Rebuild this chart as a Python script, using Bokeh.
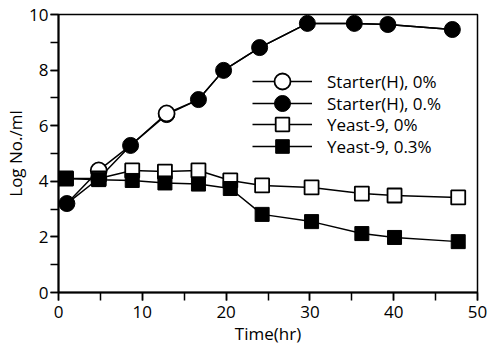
from bokeh.plotting import figure
from bokeh.models import SingleIntervalTicker, Legend, LegendItem, Range1d
from bokeh.embed import file_html
from bokeh.resources import INLINE

# Data
circle_time = [1.0, 4.8, 8.6, 12.9, 16.7, 19.7, 24.0, 29.7, 35.3, 39.3, 47.0]
starter_0 = [3.2, 4.39, 5.29, 6.44, 6.94, 7.99, 8.81, 9.68, 9.68, 9.64, 9.46]
starter_03 = [3.2, 4.1, 5.29, 6.4, 6.94, 7.99, 8.81, 9.68, 9.68, 9.64, 9.46]
square_time = [0.9, 4.8, 8.8, 12.7, 16.7, 20.5, 24.3, 30.2, 36.2, 40.1, 47.7]
yeast_0 = [4.1, 4.1, 4.39, 4.35, 4.39, 4.03, 3.85, 3.78, 3.56, 3.49, 3.42]
yeast_03 = [4.1, 4.06, 4.03, 3.94, 3.9, 3.74, 2.81, 2.55, 2.12, 1.98, 1.83]
labels = ["Starter(H), 0%", "Starter(H), 0.%", "Yeast-9, 0%", "Yeast-9, 0.3%"]

FONT = "Open Sans"

p = figure(width=497, height=347, output_backend="svg", toolbar_location=None,
           x_range=Range1d(0, 50), y_range=Range1d(0, 10),
           min_border_left=58, min_border_right=20, min_border_top=14, min_border_bottom=55)
p.background_fill_color = "white"
p.border_fill_color = "white"
p.outline_line_color = "black"
p.outline_line_width = 1.5
p.grid.visible = False

p.xaxis.ticker = SingleIntervalTicker(interval=10, num_minor_ticks=2)
p.yaxis.ticker = SingleIntervalTicker(interval=2, num_minor_ticks=2)
for ax in (p.xaxis[0], p.yaxis[0]):
    ax.axis_line_color = "black"
    ax.axis_line_width = 2
    ax.major_tick_line_color = "black"
    ax.minor_tick_line_color = "black"
    ax.major_tick_line_width = 1.5
    ax.minor_tick_line_width = 1.5
    ax.major_tick_in = 0
    ax.major_tick_out = 8
    ax.minor_tick_in = 0
    ax.minor_tick_out = 8
    ax.major_label_text_font = FONT
    ax.major_label_text_font_size = "17px"
    ax.major_label_text_color = "black"
    ax.axis_label_text_font = FONT
    ax.axis_label_text_font_size = "17px"
    ax.axis_label_text_font_style = "normal"
    ax.axis_label_text_color = "black"
p.xaxis.axis_label = "Time(hr)"
p.yaxis.axis_label = "Log No./ml"
p.xaxis.major_label_standoff = 5
p.yaxis.major_label_standoff = 2
p.xaxis.axis_label_standoff = 1
p.yaxis.axis_label_standoff = -1

LW = 1.5
# lines
l0 = p.line(circle_time, starter_0, line_color="black", line_width=LW)
l1 = p.line(circle_time, starter_03, line_color="black", line_width=LW)
l2 = p.line(square_time, yeast_0, line_color="black", line_width=LW)
l3 = p.line(square_time, yeast_03, line_color="black", line_width=LW)

# filled circles
m1 = p.scatter(circle_time, starter_03, marker="circle", size=16,
               fill_color="black", line_color="black")
# open circles where they differ from the filled series (others lie under it)
diff = [a != b for a, b in zip(starter_0, starter_03)]
ox = [t for t, d in zip(circle_time, diff) if d]
oy = [v for v, d in zip(starter_0, diff) if d]
m0 = p.scatter(ox, oy, marker="circle", size=16, fill_color="white",
               line_color="black", line_width=1.8)
m2 = p.scatter(square_time, yeast_0, marker="square", size=14, fill_color="white",
               line_color="black", line_width=1.8)
m3 = p.scatter(square_time, yeast_03, marker="square", size=14, fill_color="black",
               line_color="black")

# one legend box per entry so rows can sit closer than the glyph height
entries = [(labels[0], [l0, m0], 40, 191),
           (labels[1], [l1, m1], 40, 169),
           (labels[2], [l2, m2], 34, 151),
           (labels[3], [l3, m3], 34, 129)]
for lab, rends, gh, ypos in entries:
    lg = Legend(items=[LegendItem(label=lab, renderers=rends)], location=(194, ypos))
    lg.border_line_color = None
    lg.background_fill_alpha = 0
    lg.padding = 0
    lg.margin = 0
    lg.glyph_width = 60
    lg.glyph_height = gh
    lg.label_height = 20
    lg.spacing = 0
    lg.label_standoff = 15
    lg.label_text_font = FONT
    lg.label_text_font_size = "17px"
    lg.label_text_color = "black"
    p.add_layout(lg, "center")

open("out.html", "w").write(file_html(p, INLINE))
